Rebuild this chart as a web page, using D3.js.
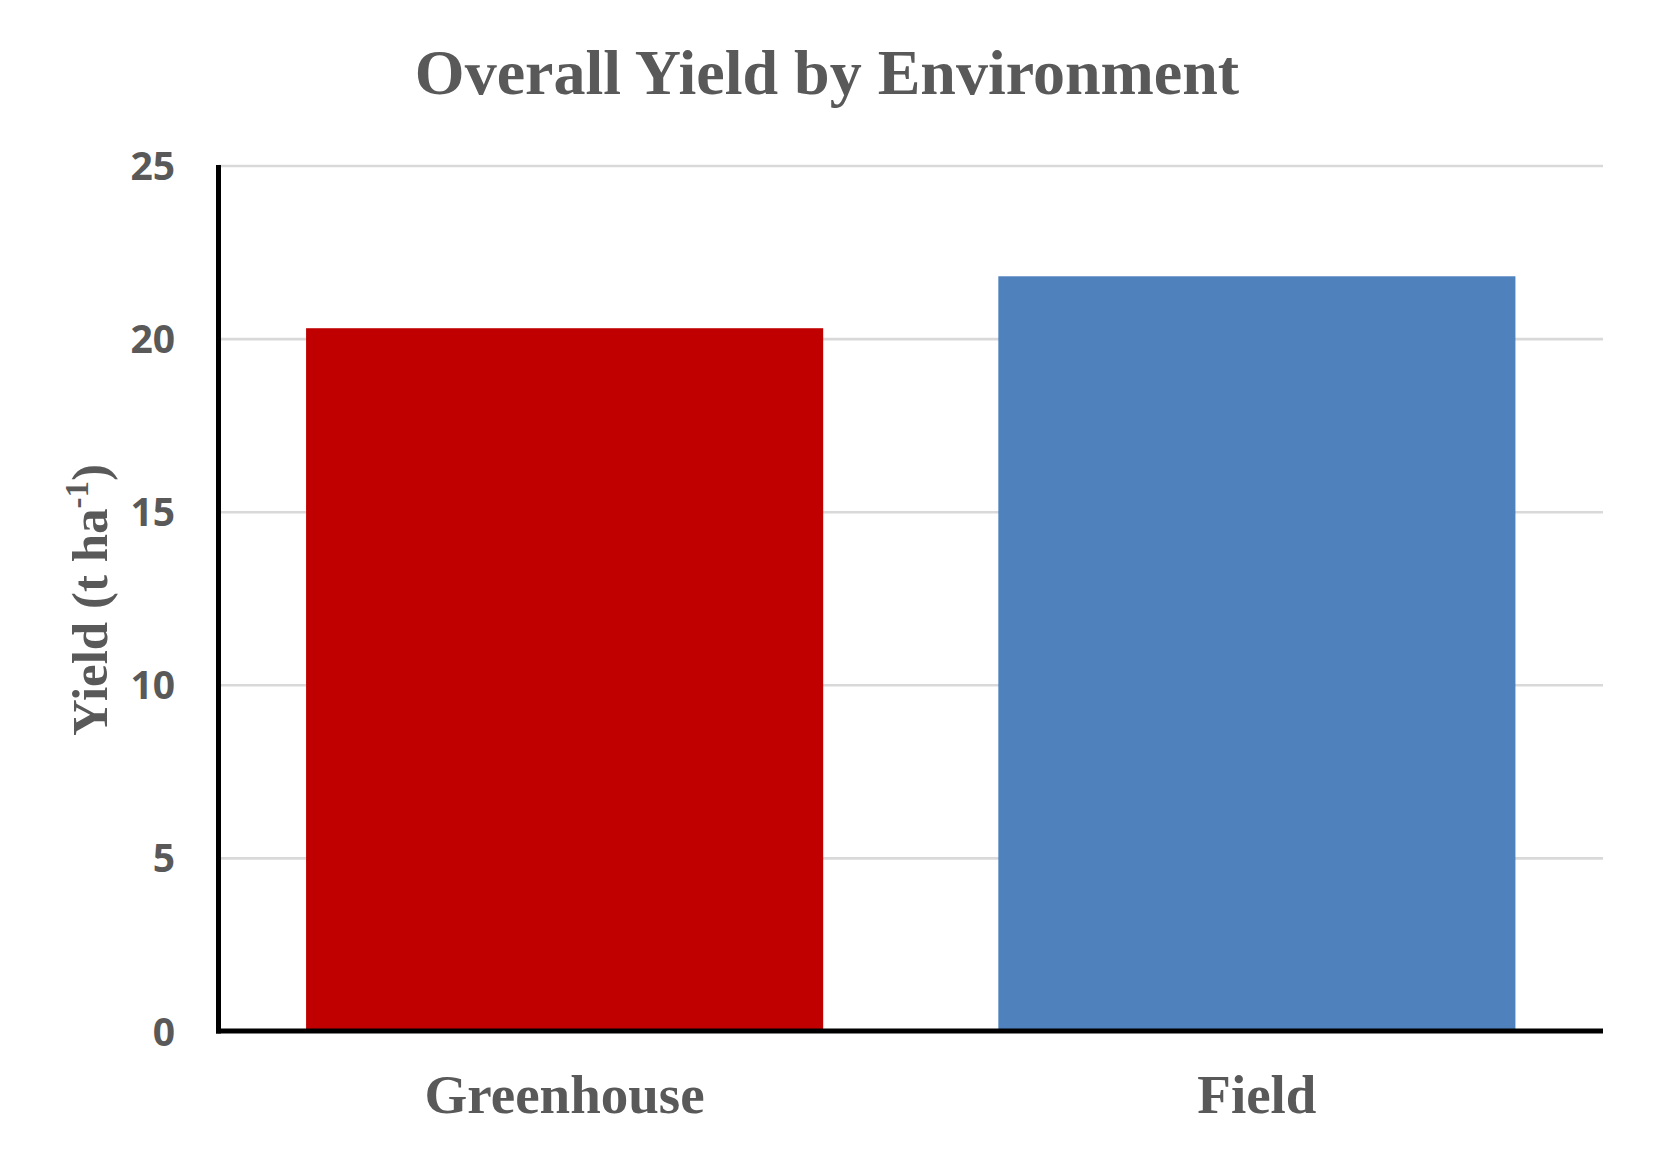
<!DOCTYPE html>
<html>
<head>
<meta charset="utf-8">
<script src="https://cdn.jsdelivr.net/npm/d3@7/dist/d3.min.js"></script>
<style>
  html, body { margin: 0; padding: 0; background: #ffffff; }
  svg { display: block; }
</style>
</head>
<body>
<svg id="chart" width="1654" height="1154"></svg>
<script>
// ---- Data ----
const categories = ["Greenhouse", "Field"];
const yieldValues = [20.3, 21.8];
const barColors = ["#C00000", "#4F81BD"];
const yTicks = [0, 5, 10, 15, 20, 25];
const titleText = "Overall Yield by Environment";

// ---- Layout ----
const W = 1654, H = 1154;
const plotLeft = 218.5, plotRight = 1603, plotTop = 165.5, plotBottom = 1031;
const textColor = "#595959";
const serif = "'Liberation Serif', 'Times New Roman', Times, serif";
const sans = "'Open Sans', 'Noto Sans', Arial, sans-serif";

const svg = d3.select("#chart");
svg.append("rect").attr("width", W).attr("height", H).attr("fill", "#ffffff");

const x = d3.scaleBand().domain(categories).range([plotLeft, plotRight])
  .paddingInner(0.253).paddingOuter(0.1265);
const y = d3.scaleLinear().domain([0, 25]).range([plotBottom, plotTop]);

// Gridlines + y tick labels
const yAxis = d3.axisLeft(y).tickValues(yTicks).tickSize(0).tickPadding(0)
  .tickFormat(d3.format("d"));
const gy = svg.append("g").attr("transform", `translate(${plotLeft},0)`).call(yAxis);
gy.select(".domain").remove();
gy.selectAll(".tick text")
  .attr("x", 175 - plotLeft)
  .attr("dy", "0.36em")
  .attr("text-anchor", "end")
  .style("font-family", sans)
  .style("font-weight", "700")
  .style("font-size", "39px")
  .attr("fill", textColor);
gy.selectAll(".tick").filter(d => d !== 0)
  .append("line")
  .attr("x1", 0).attr("x2", plotRight - plotLeft)
  .attr("stroke", "#D9D9D9").attr("stroke-width", 2.6);

// Bars
svg.append("g").selectAll("rect.bar").data(categories).join("rect")
  .attr("class", "bar")
  .attr("x", d => x(d))
  .attr("width", x.bandwidth())
  .attr("y", (d, i) => y(yieldValues[i]))
  .attr("height", (d, i) => y(0) - y(yieldValues[i]))
  .attr("fill", (d, i) => barColors[i]);

// X axis (category labels)
const xAxis = d3.axisBottom(x).tickSize(0).tickPadding(0);
const gx = svg.append("g").attr("transform", `translate(0,${plotBottom})`).call(xAxis);
gx.select(".domain").remove();
gx.selectAll(".tick text")
  .attr("y", 82).attr("dy", 0)
  .style("font-family", serif)
  .style("font-weight", "700")
  .style("font-size", "55px")
  .attr("fill", textColor);

// Axis lines
svg.append("line")
  .attr("x1", plotLeft).attr("x2", plotLeft)
  .attr("y1", 165).attr("y2", plotBottom + 2.5)
  .attr("stroke", "#000").attr("stroke-width", 5);
svg.append("line")
  .attr("x1", plotLeft - 2.5).attr("x2", plotRight)
  .attr("y1", plotBottom).attr("y2", plotBottom)
  .attr("stroke", "#000").attr("stroke-width", 5);

// Title
svg.append("text")
  .attr("x", 827).attr("y", 94)
  .attr("text-anchor", "middle")
  .style("font-family", serif)
  .style("font-weight", "700")
  .style("font-size", "64px")
  .attr("fill", textColor)
  .text(titleText);

// Y axis label
const yl = svg.append("text")
  .attr("transform", "translate(107,600) rotate(-90)")
  .attr("text-anchor", "middle")
  .style("font-family", serif)
  .style("font-weight", "700")
  .style("font-size", "51px")
  .attr("fill", textColor);
yl.append("tspan").text("Yield (t ha");
yl.append("tspan").attr("dy", -19).style("font-size", "33px").text("-1");
yl.append("tspan").attr("dy", 19).text(")");
</script>
</body>
</html>
